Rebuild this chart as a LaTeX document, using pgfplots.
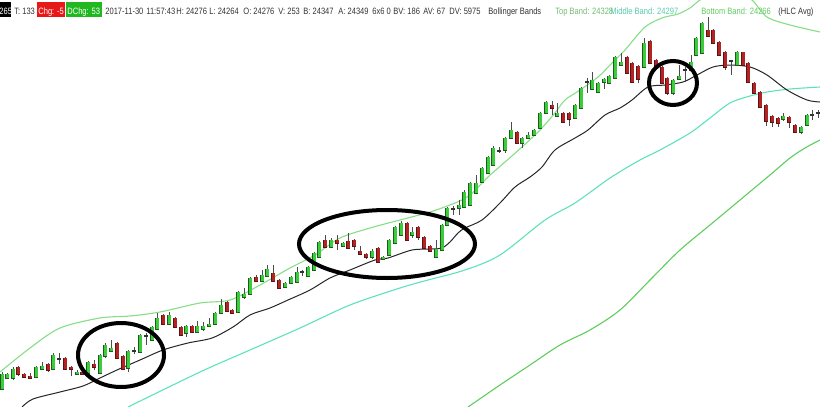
\documentclass[border=0pt]{standalone}
\usepackage{fontspec}
\setmainfont{Liberation Sans}
\newfontfamily\hdrfont[FakeStretch=0.82]{Liberation Sans}
\usepackage{pgfplots}
\usepackage{pgfplotstable}
\pgfplotsset{compat=1.18}
\definecolor{cgreen}{HTML}{3ACC3A}
\definecolor{cgreenD}{HTML}{1E5A1E}
\definecolor{cred}{HTML}{B22424}
\definecolor{credD}{HTML}{5A1212}
\definecolor{topband}{HTML}{86DE86}
\definecolor{midband}{HTML}{5EE2BE}
\definecolor{botband}{HTML}{5ECC5E}
\definecolor{hdrtxt}{HTML}{333333}
\definecolor{boxred}{HTML}{E81818}
\definecolor{boxgreen}{HTML}{1FB81F}

% candles in picture rows: body top/bottom, wick top/bottom
\pgfplotstableread{
x bt bb wt wb
2 374 389 372 390
7 374 378 373 379
13 369 378 367 380
36 367 377 366 378
42 366 369 362 370
53 355 369 353 370
77 372 374 370 375
88 362 373 361 374
100 355 373 354 374
105 345 356 343 358
111 348 351 340 352
128 351 368 350 372
140 335 352 334 353
152 327 340 326 341
157 318 329 313 330
169 315 324 312 325
186 326 333 325 337
197 326 332 321 333
203 326 329 322 331
209 324 326 318 327
215 313 324 312 325
221 305 313 299 314
238 292 312 291 313
244 294 297 288 299
250 278 294 277 295
262 275 281 270 282
267 269 276 265 277
285 283 287 282 288
291 277 283 276 284
297 272 282 267 283
308 267 276 266 277
314 253 270 252 271
319 242 257 241 258
331 240 247 238 248
343 243 246 242 247
372 251 257 249 259
383 257 259 256 260
389 240 255 239 256
395 227 243 226 244
401 223 235 221 236
412 232 235 227 238
436 249 257 240 258
442 225 250 224 251
447 208 225 207 226
459 205 208 200 215
464 192 207 190 208
470 183 205 182 206
476 183 193 175 194
482 168 182 167 183
488 157 173 156 174
493 148 165 146 166
505 138 150 137 153
511 130 138 122 139
522 138 143 137 148
528 135 138 132 139
534 130 135 129 136
540 113 128 112 129
546 102 113 101 114
557 113 116 103 117
575 105 118 104 119
581 88 108 87 109
592 80 89 72 90
598 83 92 82 93
604 79 82 78 89
609 76 83 75 84
615 57 78 56 79
621 62 65 53 66
644 43 67 38 68
673 80 93 79 95
679 76 79 65 80
691 62 70 55 71
696 38 55 37 56
702 23 53 22 54
737 52 65 51 66
783 116 119 113 121
801 127 132 126 134
807 115 125 114 126
}\tabG

\pgfplotstableread{
x bt bb wt wb
18 367 374 366 376
24 374 377 373 378
30 376 378 373 379
48 364 370 363 372
65 358 369 357 370
71 367 369 366 376
82 372 374 371 375
94 364 367 360 370
117 343 358 342 359
123 356 369 355 370
163 315 324 314 325
175 318 327 317 328
181 327 335 326 336
192 326 332 325 333
227 302 311 301 312
232 310 313 309 314
256 277 281 275 282
273 273 281 265 282
279 280 288 279 289
325 240 247 235 248
337 240 243 235 250
348 241 248 233 249
354 240 246 239 250
360 251 254 246 255
366 254 257 253 259
378 248 262 247 263
407 223 240 222 241
418 227 237 226 240
424 237 248 236 249
430 246 251 245 252
517 132 143 131 144
552 105 108 101 115
563 113 122 112 123
569 113 119 112 126
627 57 73 56 74
632 63 82 62 83
638 66 79 65 83
650 41 63 40 64
656 60 68 59 69
662 67 83 66 84
667 78 93 77 95
708 30 36 17 37
713 30 43 29 44
719 42 55 41 56
725 52 67 51 70
743 52 65 52 66
748 63 82 62 83
754 83 93 82 94
760 92 107 91 108
766 105 121 104 126
772 116 122 115 127
778 118 123 117 127
789 117 122 116 128
795 125 132 124 133
}\tabR

\pgfplotstableread{
x y wt wb
59 359 353 364
134 351 347 354
146 336 333 345
302 272 270 276
453 209 206 215
499 151 147 153
587 82 78 93
685 70 67 82
731 61 61 75
812 115 110 120
818 113 110 118
}\tabD

\pgfplotsset{
  nomk/.style={only marks, mark=*, mark size=0pt, mark options={draw opacity=0, fill opacity=0}},
  wick/.style={nomk, error bars/.cd, y dir=both, y explicit, error mark=none,
    error bar style={line width=0.5pt, color=black!70}},
  bodyout/.style={nomk, error bars/.cd, y dir=both, y explicit, error mark=none,
    error bar style={line width=2.4pt, color=#1}},
  bodyfill/.style={nomk, error bars/.cd, y dir=both, y explicit, error mark=none,
    error bar style={line width=1.5pt, color=#1}},
}

\begin{document}
\begin{tikzpicture}
\begin{axis}[scale only axis, width=410pt, height=203.5pt,
  xmin=0, xmax=820, ymin=0, ymax=407, y dir=reverse, hide axis, clip=true]

% bands and average
\addplot[topband, line width=0.55pt, smooth, mark=none] coordinates {
(0,372)(30,348)(60,328)(100,318)(130,316)(160,312)(200,303)(230,300)(260,285)(290,268)
(315,255)(340,238)(370,228)(400,220)(430,212)(455,203)(470,195)(488,177)(505,162)(522,147)
(540,130)(555,113)(565,100)(580,90)(598,77)(612,63)(625,50)(635,38)(645,27)(655,21)(665,17)
(678,14)(690,8)(700,0)(715,-8)(735,-10)(752,0)(767,17)(790,25)(820,32)};
\addplot[midband, line width=0.55pt, smooth, mark=none] coordinates {
(128,407)(200,372)(250,350)(300,328)(350,305)(400,288)(428,280)(465,270)(500,255)(545,220)
(575,203)(610,178)(640,160)(660,150)(690,133)(710,118)(730,103)(750,96)(767,92)(790,89)(820,87)};
\addplot[botband, line width=0.55pt, smooth, mark=none] coordinates {
(468,407)(500,385)(530,365)(560,345)(590,330)(620,310)(650,280)(680,250)(710,225)(740,200)
(770,175)(790,158)(805,148)(820,140)};
\addplot[black!85, line width=0.5pt, smooth, mark=none] coordinates {
(22,407)(33,399)(60,392)(83,386)(100,378)(117,370)(140,360)(163,350)(188,343)(212,338)(233,327)
(250,315)(270,308)(288,300)(310,290)(330,278)(350,270)(375,260)(388,258)(412,250)(432,249)
(442,248)(450,242)(458,233)(465,228)(482,220)(500,203)(515,187)(530,177)(542,167)(555,150)
(575,138)(588,130)(605,115)(620,108)(632,100)(648,87)(665,85)(683,82)(697,75)(713,67)(730,65)
(750,67)(767,75)(787,90)(807,100)(820,102)};

% wicks
\addplot[wick] table[x=x, y expr={(\thisrow{wt}+\thisrow{wb})/2}, y error expr={(\thisrow{wb}-\thisrow{wt})/2}] {\tabG};
\addplot[wick] table[x=x, y expr={(\thisrow{wt}+\thisrow{wb})/2}, y error expr={(\thisrow{wb}-\thisrow{wt})/2}] {\tabR};
\addplot[wick] table[x=x, y expr={(\thisrow{wt}+\thisrow{wb})/2}, y error expr={(\thisrow{wb}-\thisrow{wt})/2}] {\tabD};

% bodies
\addplot[bodyout=cgreenD] table[x=x, y expr={(\thisrow{bt}+\thisrow{bb})/2}, y error expr={(\thisrow{bb}-\thisrow{bt})/2+0.5}] {\tabG};
\addplot[bodyfill=cgreen] table[x=x, y expr={(\thisrow{bt}+\thisrow{bb})/2}, y error expr={max((\thisrow{bb}-\thisrow{bt})/2-0.4,0.3)}] {\tabG};
\addplot[bodyout=credD] table[x=x, y expr={(\thisrow{bt}+\thisrow{bb})/2}, y error expr={(\thisrow{bb}-\thisrow{bt})/2+0.5}] {\tabR};
\addplot[bodyfill=cred] table[x=x, y expr={(\thisrow{bt}+\thisrow{bb})/2}, y error expr={max((\thisrow{bb}-\thisrow{bt})/2-0.4,0.3)}] {\tabR};
\addplot[bodyout=black!80] table[x=x, y=y, y error expr={0.6}] {\tabD};

% annotation ellipses
\draw[black, line width=2pt] (axis cs:121,355) ellipse [x radius=21.5pt, y radius=16pt];
\draw[black, line width=2pt] (axis cs:387,244) ellipse [x radius=44pt, y radius=17pt];
\draw[black, line width=2pt] (axis cs:673,83) ellipse [x radius=12pt, y radius=11pt];

% header
\fill[black] (axis cs:0,2) rectangle (axis cs:11,17);
\fill[boxred] (axis cs:37,2) rectangle (axis cs:65,17);
\fill[boxgreen] (axis cs:66,2) rectangle (axis cs:102,17);
\begin{scope}[every node/.style={anchor=base west, inner sep=0pt, font=\hdrfont\fontsize{4.6pt}{5.5pt}\selectfont, text=hdrtxt}]
\node[text=white] at (axis cs:-1,14) {265};
\node at (axis cs:14,14) {T: 133};
\node[text=white] at (axis cs:38,14) {Chg: -5};
\node[text=white] at (axis cs:67,14) {DChg: 53};
\node at (axis cs:105,14) {2017-11-30};
\node at (axis cs:146,14) {11:57:43};
\node at (axis cs:176,14) {H: 24276};
\node at (axis cs:209,14) {L: 24264};
\node at (axis cs:243,14) {O: 24276};
\node at (axis cs:278,14) {V: 253};
\node at (axis cs:303,14) {B: 24347};
\node at (axis cs:338,14) {A: 24349};
\node at (axis cs:372,14) {6x6 0};
\node at (axis cs:393,14) {BV: 186};
\node at (axis cs:423,14) {AV: 67};
\node at (axis cs:449,14) {DV: 5975};
\node at (axis cs:488,14) {Bollinger Bands};
\node[text=topband!85!black] at (axis cs:555,14) {Top Band: 24328};
\node[text=midband!90!black] at (axis cs:610,14) {Middle Band: 24297};
\node[text=botband] at (axis cs:701,14) {Bottom Band: 24266};
\node at (axis cs:778,14) {(HLC Avg)};
\end{scope}
\end{axis}
\pgfresetboundingbox
\path (0,0) rectangle (410pt,203.5pt);
\end{tikzpicture}
\end{document}
